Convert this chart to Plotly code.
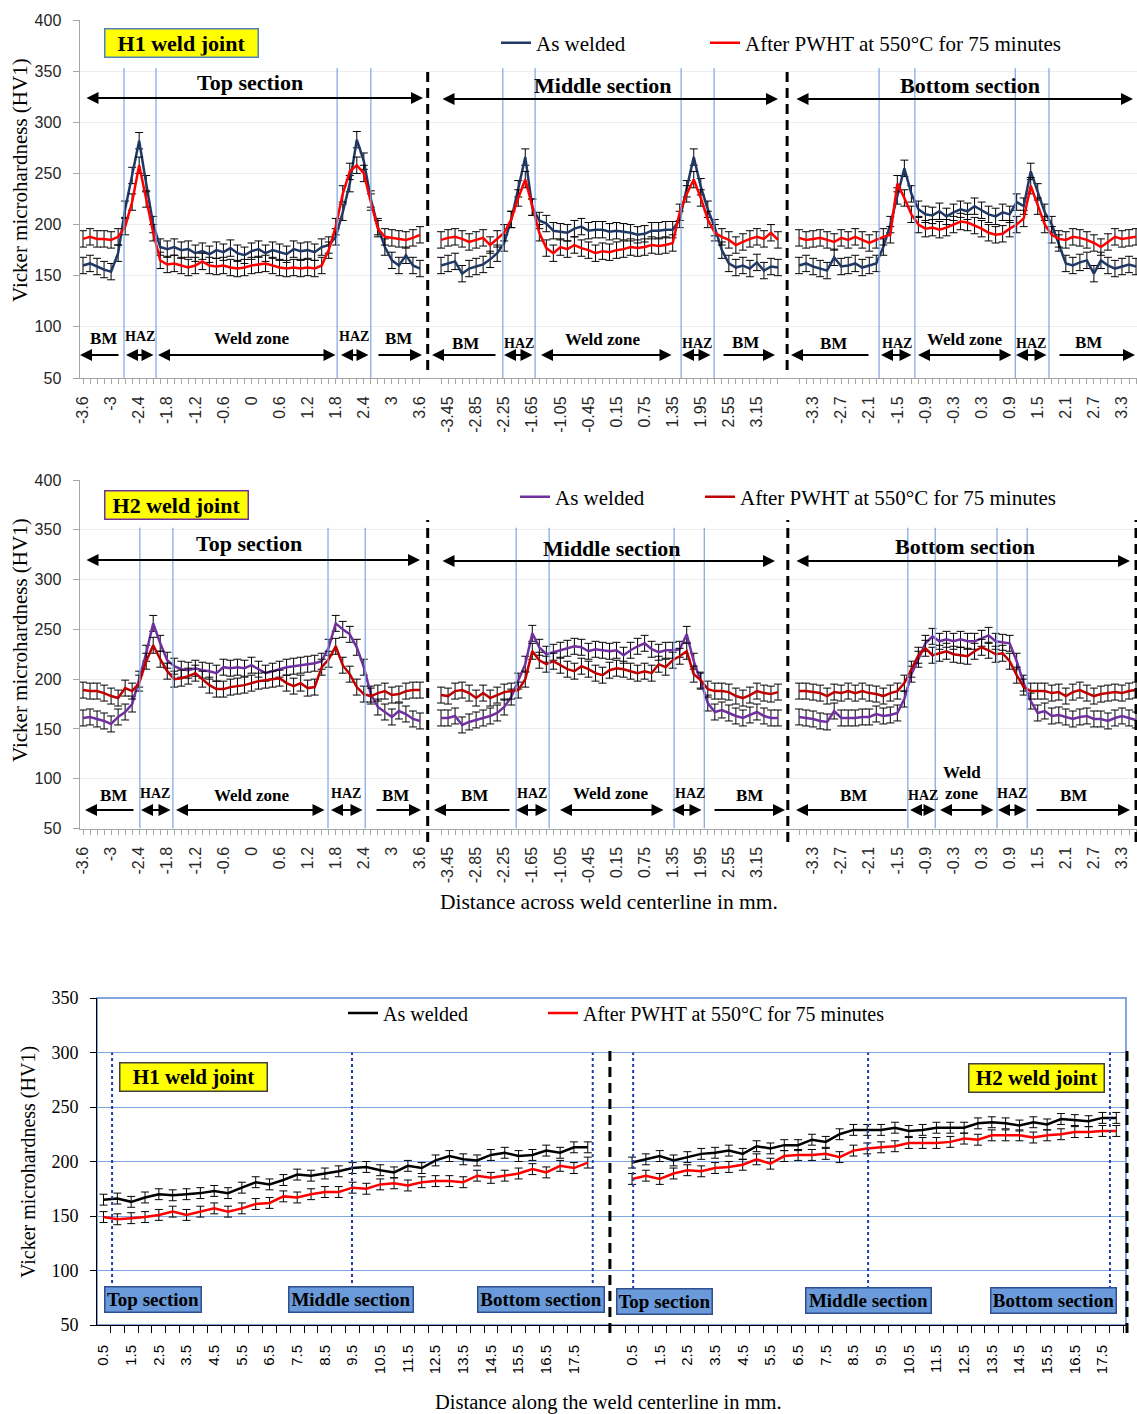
import plotly.graph_objects as go

W, H = 1137, 1414
SERIF = "Liberation Serif"
SANS = "Liberation Sans"

# ======================= DATA =======================
# Panels 1-2: distance across the weld centre line, 49 readings per section
SECTION_MM = [round(-3.6 + 0.15 * i, 2) for i in range(49)]

H1_TOP_AW = [160, 162, 159, 156, 154, 172, 215, 248, 282, 240, 200, 178, 176, 178, 175, 176, 172, 174, 171, 175,
             173, 177, 172, 170, 174, 176, 172, 175, 173, 171, 176, 174, 175, 173, 178, 180, 188, 212, 240, 283,
             262, 225, 198, 178, 165, 160, 170, 160, 157]
H1_TOP_PW = [186, 188, 186, 186, 185, 188, 198, 222, 258, 225, 192, 165, 161, 162, 160, 158, 160, 164, 160, 159,
             160, 158, 157, 158, 160, 161, 162, 160, 158, 157, 158, 157, 158, 157, 160, 175, 198, 230, 252, 258,
             250, 222, 196, 188, 187, 186, 185, 187, 190]
H1_MID_AW = [160, 162, 164, 152, 157, 159, 161, 166, 172, 182, 205, 235, 266, 217, 204, 201, 194, 193, 192, 196,
             198, 194, 195, 195, 193, 194, 193, 192, 190, 191, 194, 194, 195, 195, 205, 235, 266, 237, 215, 197,
             175, 162, 158, 160, 157, 163, 155, 159, 158]
H1_MID_PW = [185, 187, 188, 186, 183, 185, 187, 180, 186, 192, 205, 226, 244, 217, 192, 177, 172, 178, 176, 180,
             177, 175, 172, 174, 173, 175, 176, 178, 177, 178, 180, 179, 180, 182, 212, 230, 244, 226, 205, 192,
             188, 185, 180, 183, 186, 188, 186, 192, 185]
H1_BOT_AW = [160, 162, 159, 157, 155, 168, 159, 160, 162, 158, 160, 162, 178, 200, 228, 255, 230, 215, 210, 209,
             213, 208, 212, 215, 213, 218, 214, 210, 208, 212, 210, 222, 218, 252, 232, 212, 200, 182, 162, 160,
             163, 165, 152, 165, 160, 157, 159, 161, 159]
H1_BOT_PW = [187, 185, 186, 187, 185, 183, 187, 185, 188, 185, 182, 185, 188, 190, 240, 226, 210, 200, 196, 197,
             195, 197, 200, 203, 202, 199, 196, 192, 190, 191, 196, 200, 206, 238, 218, 200, 190, 186, 185, 188,
             187, 185, 182, 178, 183, 188, 186, 187, 188]

H2_TOP_AW = [161, 162, 160, 158, 155, 162, 167, 175, 200, 226, 256, 236, 219, 213, 210, 209, 211, 209, 208, 206,
             212, 211, 212, 211, 214, 210, 206, 208, 210, 212, 213, 214, 215, 216, 218, 232, 256, 250, 245, 232,
             212, 185, 172, 167, 162, 168, 165, 160, 158]
H2_TOP_PW = [189, 188, 188, 186, 183, 181, 191, 188, 196, 218, 234, 220, 208, 200, 201, 203, 206, 200, 194, 190,
             190, 192, 193, 194, 196, 198, 199, 200, 201, 196, 193, 196, 191, 192, 212, 220, 233, 214, 205, 192,
             185, 183, 186, 188, 184, 185, 188, 189, 189]
H2_MID_AW = [161, 161, 163, 154, 157, 159, 161, 163, 166, 172, 182, 198, 215, 246, 232, 225, 227, 229, 231, 233,
             232, 228, 230, 229, 228, 229, 224, 229, 233, 236, 230, 227, 229, 229, 230, 245, 218, 198, 176, 167,
             169, 166, 163, 161, 164, 167, 163, 161, 161]
H2_MID_PW = [184, 183, 188, 189, 186, 181, 186, 181, 184, 187, 188, 189, 200, 228, 219, 215, 218, 214, 210, 208,
             213, 210, 206, 204, 209, 211, 210, 208, 206, 208, 206, 215, 212, 219, 223, 228, 205, 199, 190, 188,
             188, 187, 183, 181, 184, 188, 186, 185, 187]
H2_BOT_AW = [162, 161, 160, 158, 157, 168, 161, 161, 161, 162, 162, 165, 163, 164, 166, 180, 205, 220, 236, 243,
             238, 240, 238, 240, 238, 238, 241, 244, 238, 237, 236, 218, 196, 178, 166, 168, 163, 164, 162, 160,
             162, 163, 160, 160, 158, 161, 163, 161, 159]
H2_BOT_PW = [188, 188, 187, 186, 183, 187, 186, 188, 186, 188, 186, 185, 183, 186, 188, 196, 210, 224, 231, 224,
             226, 228, 225, 224, 223, 228, 232, 229, 225, 226, 218, 204, 192, 188, 188, 188, 186, 187, 183, 187,
             189, 186, 183, 185, 186, 187, 186, 188, 189]

TOP_TICKS = ["-3.6", "-3", "-2.4", "-1.8", "-1.2", "-0.6", "0", "0.6", "1.2", "1.8", "2.4", "3", "3.6"]
MID_TICKS = ["-3.45", "-2.85", "-2.25", "-1.65", "-1.05", "-0.45", "0.15", "0.75", "1.35", "1.95", "2.55", "3.15"]
BOT_TICKS = ["-3.3", "-2.7", "-2.1", "-1.5", "-0.9", "-0.3", "0.3", "0.9", "1.5", "2.1", "2.7", "3.3"]

# Panel 3: distance along the weld centre line
ALONG_MM = [0.5 * (i + 1) for i in range(36)]
ALONG_TICKS = ["0.5", "1.5", "2.5", "3.5", "4.5", "5.5", "6.5", "7.5", "8.5", "9.5", "10.5", "11.5",
               "12.5", "13.5", "14.5", "15.5", "16.5", "17.5"]
L_H1_AW = [165, 166, 163, 167, 170, 169, 170, 171, 173, 171, 176, 181, 179, 183, 188, 187, 189, 191,
           194, 195, 192, 190, 196, 194, 201, 205, 202, 201, 206, 208, 205, 206, 210, 208, 213, 213]
L_H1_PW = [149, 147, 148, 149, 151, 154, 151, 154, 157, 154, 157, 161, 162, 168, 167, 170, 172, 172,
           176, 175, 179, 180, 178, 181, 182, 182, 181, 187, 185, 187, 189, 193, 190, 196, 194, 199]
L_H2_AW = [199, 202, 205, 201, 204, 207, 208, 210, 207, 214, 212, 215, 215, 220, 218, 225, 229, 229,
           229, 231, 228, 229, 231, 231, 231, 235, 236, 235, 233, 236, 234, 239, 238, 237, 240, 240]
L_H2_PW = [184, 187, 184, 189, 192, 191, 194, 195, 197, 202, 198, 205, 206, 206, 207, 204, 210, 212,
           213, 214, 217, 217, 217, 218, 221, 220, 224, 224, 224, 222, 224, 225, 227, 227, 228, 228]

ERR_ACROSS = 8
ERR_ALONG = 5
NAME_AW = "As welded"
NAME_PW = "After PWHT at 550°C for 75 minutes"

# ======================= LAYOUT HELPERS =======================
SEC_START = [0, 51, 102]          # category slot of first reading in each section
STEP = 0.15
ALONG_OFF = [0.0, 19.1]           # H1 / H2 offset on the along-axis


def px(x):
    return x / W


def py(y):
    return 1 - y / H


def cat_pos(sec, mm):
    return SEC_START[sec] + (mm - SECTION_MM[0]) / STEP


def joined(sections):
    xs, ys = [], []
    for s, vals in enumerate(sections):
        xs += [cat_pos(s, m) for m in SECTION_MM] + [None]
        ys += list(vals) + [None]
    return xs, ys


fig = go.Figure()


def add_series(vals_list, name, color, xa, ya, legend, err, width=2.5, offsets=None, mm=None):
    if offsets is None:
        xs, ys = joined(vals_list)
    else:
        xs, ys = [], []
        for off, vals in zip(offsets, vals_list):
            xs += [off + m for m in mm] + [None]
            ys += list(vals) + [None]
    fig.add_trace(go.Scatter(
        x=xs, y=ys, mode="lines", name=name, xaxis=xa, yaxis=ya, legend=legend,
        line=dict(color=color, width=width), connectgaps=False,
        error_y=dict(type="constant", value=err, color="black", thickness=1, width=4),
    ))


add_series([H1_TOP_AW, H1_MID_AW, H1_BOT_AW], NAME_AW, "#1F3864", "x", "y", "legend", ERR_ACROSS)
add_series([H1_TOP_PW, H1_MID_PW, H1_BOT_PW], NAME_PW, "#FF0000", "x", "y", "legend2", ERR_ACROSS)
add_series([H2_TOP_AW, H2_MID_AW, H2_BOT_AW], NAME_AW, "#7030A0", "x2", "y2", "legend3", ERR_ACROSS)
add_series([H2_TOP_PW, H2_MID_PW, H2_BOT_PW], NAME_PW, "#C00000", "x2", "y2", "legend4", ERR_ACROSS)
add_series([L_H1_AW, L_H2_AW], NAME_AW, "#000000", "x3", "y3", "legend5", ERR_ALONG, offsets=ALONG_OFF, mm=ALONG_MM)
add_series([L_H1_PW, L_H2_PW], NAME_PW, "#FF0000", "x3", "y3", "legend6", ERR_ALONG, offsets=ALONG_OFF, mm=ALONG_MM)

# ---- tick positions ----
tv12, tt12 = [], []
for s, labels in enumerate([TOP_TICKS, MID_TICKS, BOT_TICKS]):
    for t in labels:
        tv12.append(cat_pos(s, float(t)))
        tt12.append(t)
minor12 = [cat_pos(s, m) for s in range(3) for m in SECTION_MM]

tv3, tt3 = [], []
for off in ALONG_OFF:
    for t in ALONG_TICKS:
        tv3.append(off + float(t))
        tt3.append(t)
minor3 = [off + m - 0.25 for off in ALONG_OFF for m in ALONG_MM] + \
         [ALONG_OFF[0] + ALONG_MM[-1] + 0.25, ALONG_OFF[1] + ALONG_MM[-1] + 0.25, 18.8]

GRAY = "#A6A6A6"
X0_PX = 79.5                       # left edge (y axis) of panels 1-2


def across_xaxis(domain_anchor):
    return dict(domain=[px(X0_PX), 1], range=[-0.5, 150.14], anchor=domain_anchor, showgrid=False,
                zeroline=False, showline=True, linecolor=GRAY, linewidth=1, automargin=False,
                tickmode="array", tickvals=tv12, ticktext=tt12, tickangle=-90,
                ticks="outside", ticklen=5, tickcolor=GRAY, ticklabelstandoff=6,
                tickfont=dict(family=SANS, size=16, color="#262626"),
                minor=dict(tickvals=minor12, ticks="outside", ticklen=5, tickcolor=GRAY))


def across_yaxis(domain, anchor):
    return dict(domain=domain, range=[50, 400], anchor=anchor, tick0=50, dtick=50, showgrid=True,
                gridcolor="#EDEDED", zeroline=False, showline=True, linecolor=GRAY, automargin=False,
                ticks="outside", ticklen=6, tickcolor=GRAY, ticklabelstandoff=8,
                tickfont=dict(family=SANS, size=16, color="#262626"))


def leg(x_text, y, size):
    # legend box placed so that the entry text starts at pixel x_text
    return dict(orientation="h", xanchor="left", yanchor="middle", bgcolor="rgba(0,0,0,0)",
                x=px(x_text - 40), y=py(y), font=dict(family=SERIF, size=size, color="black"),
                itemwidth=30, tracegroupgap=0)


fig.update_layout(
    width=W, height=H, margin=dict(l=0, r=0, t=0, b=0, autoexpand=False),
    paper_bgcolor="white", plot_bgcolor="white", showlegend=True,
    xaxis=across_xaxis("y"),
    yaxis=across_yaxis([py(378), py(20)], "x"),
    xaxis2=across_xaxis("y2"),
    yaxis2=across_yaxis([py(828.5), py(480)], "x2"),
    xaxis3=dict(domain=[px(97), px(1126)], range=[0.265, 37.45], anchor="y3", showgrid=False,
                zeroline=False, showline=True, linecolor="black", linewidth=1, automargin=False,
                tickmode="array", tickvals=tv3, ticktext=tt3, tickangle=-90,
                ticks="outside", ticklen=7, tickcolor="rgba(0,0,0,0)", ticklabelstandoff=6,
                tickfont=dict(family=SANS, size=15, color="black"),
                minor=dict(tickvals=minor3, ticks="outside", ticklen=7, tickcolor="black")),
    yaxis3=dict(domain=[py(1325), py(998)], range=[50, 350], anchor="x3", tick0=50, dtick=50,
                showgrid=True, gridcolor="#7FA7E0", zeroline=False, showline=True, linecolor="black",
                automargin=False, ticks="outside", ticklen=6, tickcolor="black", ticklabelstandoff=8,
                tickfont=dict(family=SERIF, size=18, color="black")),
    legend=leg(536, 43, 21), legend2=leg(745, 43, 21),
    legend3=leg(555, 497, 21), legend4=leg(740, 497, 21),
    legend5=leg(383, 1013, 20), legend6=leg(583, 1013, 20),
)

# ======================= SHAPES =======================
shapes = []
HAZ1 = [5.84, 10.4, 36.2, 41.0, 59.8, 64.4, 85.2, 89.9, 113.4, 118.5, 132.8, 137.6]
HAZ2 = [8.1, 12.8, 34.9, 40.2, 61.7, 66.4, 84.2, 88.5, 117.5, 121.4, 130.2, 134.5]
for x in HAZ1:
    shapes.append(dict(type="line", xref="x", yref="y", x0=x, x1=x, y0=50, y1=353,
                       line=dict(color="#7EA6E0", width=1.2)))
for x in HAZ2:
    shapes.append(dict(type="line", xref="x2", yref="y2", x0=x, x1=x, y0=50, y1=352,
                       line=dict(color="#7EA6E0", width=1.2)))
DASH = dict(color="black", width=3, dash="10px,6px")
for x in [49.1, 100.3]:
    shapes.append(dict(type="line", xref="x", yref="paper", x0=x, x1=x, y0=py(370), y1=py(67), line=DASH))
for x in [49.1, 100.4, 150.0]:
    shapes.append(dict(type="line", xref="x2", yref="paper", x0=x, x1=x, y0=py(842), y1=py(520), line=DASH))
# panel 3
shapes.append(dict(type="rect", xref="x3 domain", yref="y3 domain", x0=0, x1=1, y0=0, y1=1,
                   line=dict(color="#5B86D1", width=1.5), layer="below"))
shapes.append(dict(type="line", xref="x3", yref="paper", x0=18.8, x1=18.8, y0=py(1333), y1=py(1048), line=DASH))
shapes.append(dict(type="line", xref="paper", yref="paper", x0=px(1127), x1=px(1127), y0=py(1333), y1=py(1048),
                   line=DASH))
for x in [0.81, 9.48, 18.18, 19.64, 28.13, 36.87]:
    shapes.append(dict(type="line", xref="x3", yref="y3", x0=x, x1=x, y0=83, y1=300,
                       line=dict(color="#1F3FA8", width=2, dash="dot")))
fig.update_layout(shapes=shapes)

# ======================= ANNOTATIONS =======================
ann = []


def text(t, x, y, size, bold=True, family=SERIF, angle=0, color="black"):
    ann.append(dict(text=f"<b>{t}</b>" if bold else t, x=px(x), y=py(y), xref="paper", yref="paper",
                    showarrow=False, xanchor="center", yanchor="middle", textangle=angle,
                    font=dict(family=family, size=size, color=color)))


def box(t, x, y, w, h, bg, border, size):
    ann.append(dict(text=f"<b>{t}</b>", x=px(x), y=py(y), xref="paper", yref="paper", showarrow=False,
                    xanchor="center", yanchor="middle", width=w, height=h, bgcolor=bg, bordercolor=border,
                    borderwidth=1.5, borderpad=1, font=dict(family=SERIF, size=size, color="black")))


def arrow(x_head, x_tail, y, both=True):
    ann.append(dict(text="", x=px(x_head), y=py(y), xref="paper", yref="paper",
                    ax=x_tail - x_head, ay=0, axref="pixel", ayref="pixel", showarrow=True,
                    arrowhead=2, arrowsize=1.2, arrowwidth=2, arrowcolor="black",
                    arrowside="end+start" if both else "end", standoff=0, startstandoff=0))


# panel 1
box("H1 weld joint", 181, 42.5, 150, 25, "#FFFF00", "#4F81BD", 22)
text("Top section", 250, 83, 22)
text("Middle section", 603, 86, 22)
text("Bottom section", 970, 86, 22)
arrow(423, 85, 98)
arrow(778, 441, 99)
arrow(1133, 795, 99)
for (t, x, y, s) in [("BM", 103, 338, 17), ("HAZ", 140, 337, 14), ("Weld zone", 252, 338, 17),
                     ("HAZ", 354, 337, 14), ("BM", 398, 338, 17),
                     ("BM", 465, 343, 17), ("HAZ", 519, 343, 14), ("Weld zone", 603, 339, 17),
                     ("HAZ", 697, 343, 14), ("BM", 745, 342, 17),
                     ("BM", 833, 343, 17), ("HAZ", 897, 343, 14), ("Weld zone", 965, 339, 17),
                     ("HAZ", 1031, 343, 14), ("BM", 1088, 342, 17)]:
    text(t, x, y, s)
for (a, b, both) in [(80, 120, False), (126, 155, True), (158, 337, True), (341, 370, True), (422, 377, False),
                     (432, 497, False), (504, 534, True), (541, 673, True), (682, 712, True), (775, 722, False),
                     (791, 870, False), (881, 913, True), (918, 1013, True), (1016, 1048, True),
                     (1135, 1058, False)]:
    arrow(a, b, 355, both)

# panel 2
box("H2 weld joint", 176, 505.5, 140, 25, "#FFFF00", "#7030A0", 22)
text("Top section", 249, 543, 22)
text("Middle section", 612, 548, 22)
text("Bottom section", 965, 546, 22)
arrow(420, 85, 560)
arrow(775, 441, 561)
arrow(1130, 795, 561)
for (t, x, y, s) in [("BM", 113, 795, 17), ("HAZ", 155, 793, 14), ("Weld zone", 252, 795, 17),
                     ("HAZ", 346, 793, 14), ("BM", 395, 795, 17),
                     ("BM", 474, 795, 17), ("HAZ", 532, 793, 14), ("Weld zone", 611, 794, 17),
                     ("HAZ", 690, 793, 14), ("BM", 749, 795, 17),
                     ("BM", 853, 795, 17), ("HAZ", 923, 795, 14), ("Weld", 962, 772, 17), ("zone", 962, 794, 17),
                     ("HAZ", 1012, 793, 14), ("BM", 1073, 795, 17)]:
    text(t, x, y, s)
for (a, b, both) in [(85, 135, False), (141, 172, True), (176, 326, True), (331, 364, True), (421, 375, False),
                     (434, 511, False), (516, 549, True), (560, 665, True), (672, 703, True), (785, 713, False),
                     (796, 908, False), (910, 937, True), (940, 995, True), (998, 1028, True),
                     (1130, 1035, False)]:
    arrow(a, b, 810, both)

# panel 3
box("H1 weld joint", 193, 1076.5, 144, 25, "#FFFF00", "#404040", 21)
box("H2 weld joint", 1036, 1078, 132, 25, "#FFFF00", "#404040", 21)
for (t, x, y, w) in [("Top section", 153, 1299.5, 93), ("Middle section", 351, 1299.5, 121),
                     ("Bottom section", 541, 1299.5, 123), ("Top section", 664.5, 1301, 92),
                     ("Middle section", 868.5, 1300.5, 122), ("Bottom section", 1053.5, 1300.5, 122)]:
    ann.append(dict(text=f"<b>{t}</b>", x=px(x), y=py(y), xref="paper", yref="paper", showarrow=False,
                    xanchor="center", yanchor="middle", width=w, height=22, bgcolor="#6A9AD9",
                    bordercolor="#2F4F8F", borderwidth=1.5, borderpad=1,
                    font=dict(family=SERIF, size=19, color="black")))

# axis titles
text("Vicker microhardness (HV1)", 20, 180, 21, bold=False, angle=-90)
text("Vicker microhardness (HV1)", 20, 640, 21, bold=False, angle=-90)
text("Vicker microhardness (HV1)", 28, 1162, 20, bold=False, angle=-90)
text("Distance across weld centerline in mm.", 609, 902, 21.5, bold=False)
text("Distance along the weld centerline in mm.", 608, 1402, 20.5, bold=False)

fig.update_layout(annotations=ann)
# the page body normally has an 8px margin; remove it so the figure fills the window exactly
fig.write_html("out.html", config={"displayModeBar": False},
               post_script="document.body.style.margin='0';")
